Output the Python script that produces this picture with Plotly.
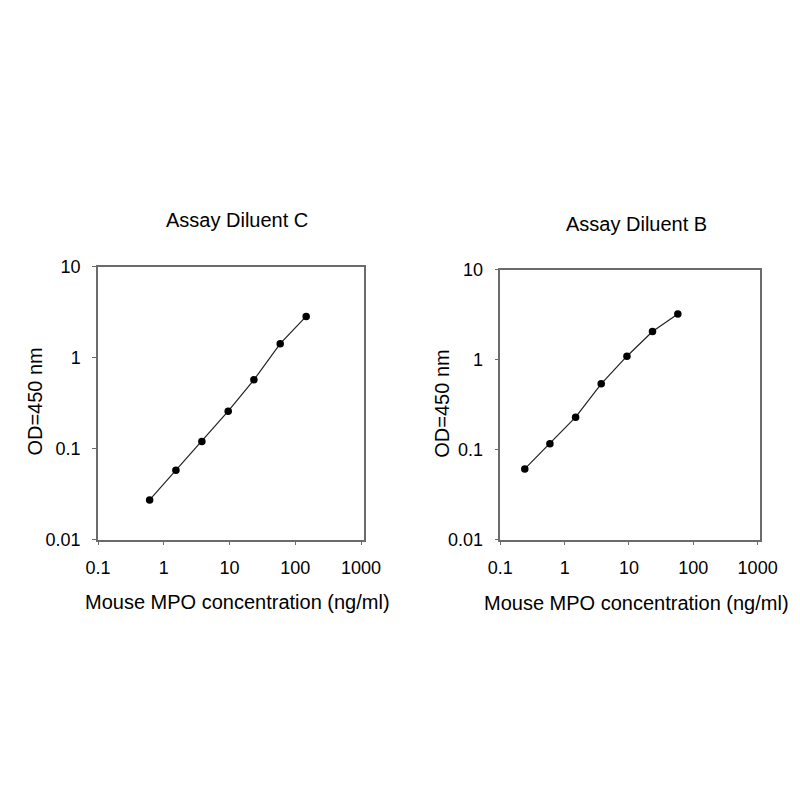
import plotly.graph_objects as go

# Assay Diluent C standard curve
conc_c = [0.61, 1.53, 3.8, 9.55, 23.5, 59, 146.5]
od_c = [0.0273, 0.0577, 0.12, 0.258, 0.571, 1.425, 2.84]

# Assay Diluent B standard curve
conc_b = [0.24, 0.59, 1.48, 3.7, 9.3, 23.2, 57.5]
od_b = [0.061, 0.116, 0.229, 0.538, 1.09, 2.05, 3.21]

xticks = [0.1, 1, 10, 100, 1000]
xticklabels = ["0.1", "1", "10", "100", "1000"]
yticks = [0.01, 0.1, 1, 10]
yticklabels = ["0.01", "0.1", "1", "10"]

titles = ["Assay Diluent C", "Assay Diluent B"]
x_title = "Mouse MPO concentration (ng/ml)"
y_title = "OD=450 nm"

W, H = 800, 800
FONT = "Liberation Sans, Arial, Helvetica, sans-serif"


def px_x(v):
    return v / W


def px_y(v):
    return 1 - v / H


fig = go.Figure()
fig.add_trace(go.Scatter(x=conc_c, y=od_c, mode="lines+markers",
                         line=dict(color="#222222", width=1.2),
                         marker=dict(color="black", size=7.5),
                         xaxis="x", yaxis="y", showlegend=False))
fig.add_trace(go.Scatter(x=conc_b, y=od_b, mode="lines+markers",
                         line=dict(color="#222222", width=1.2),
                         marker=dict(color="black", size=7.5),
                         xaxis="x2", yaxis="y2", showlegend=False))

axis_common = dict(type="log", showgrid=False, zeroline=False,
                   showline=True, linecolor="#6b6b6b", linewidth=1.5, mirror=True,
                   ticks="outside", ticklen=4, tickcolor="#6b6b6b", tickwidth=1,
                   tickfont=dict(family=FONT, size=18, color="black"))

# left panel: x 80..356, y 255..535 ; right panel: x 498..768, y 258..535
fig.update_layout(
    width=W, height=H,
    margin=dict(l=0, r=0, t=0, b=0),
    paper_bgcolor="white", plot_bgcolor="white",
    xaxis=dict(axis_common, domain=[px_x(80), px_x(356)], range=[-1, 3.04],
               tickvals=xticks, ticktext=xticklabels, anchor="y", ticklabelstandoff=7),
    yaxis=dict(axis_common, domain=[px_y(535), px_y(255)], range=[-2, 1],
               tickvals=yticks, ticktext=yticklabels, anchor="x", ticklabelstandoff=8),
    xaxis2=dict(axis_common, domain=[px_x(498), px_x(768)], range=[-1, 3.04],
                tickvals=xticks, ticktext=xticklabels, anchor="y2", ticklabelstandoff=7),
    yaxis2=dict(axis_common, domain=[px_y(535), px_y(258)], range=[-2, 1],
                tickvals=yticks, ticktext=yticklabels, anchor="x2", ticklabelstandoff=8),
)

panels = [
    dict(title=titles[0], tx=224, ty=207, ylx=15, yly=393, xlx=225, xly=599),
    dict(title=titles[1], tx=639, ty=211, ylx=437, yly=396, xlx=639, xly=600),
]
annots = []
for p in panels:
    annots.append(dict(text=p["title"], x=px_x(p["tx"]), y=px_y(p["ty"]),
                       xref="paper", yref="paper", showarrow=False,
                       xanchor="center", yanchor="middle",
                       font=dict(family=FONT, size=20, color="black")))
    annots.append(dict(text=x_title, x=px_x(p["xlx"]), y=px_y(p["xly"]),
                       xref="paper", yref="paper", showarrow=False,
                       xanchor="center", yanchor="middle",
                       font=dict(family=FONT, size=20, color="black")))
    annots.append(dict(text=y_title, x=px_x(p["ylx"]), y=px_y(p["yly"]),
                       xref="paper", yref="paper", showarrow=False, textangle=-90,
                       xanchor="center", yanchor="middle",
                       font=dict(family=FONT, size=20, color="black")))
fig.update_layout(annotations=annots)

fig.write_html("out.html")
